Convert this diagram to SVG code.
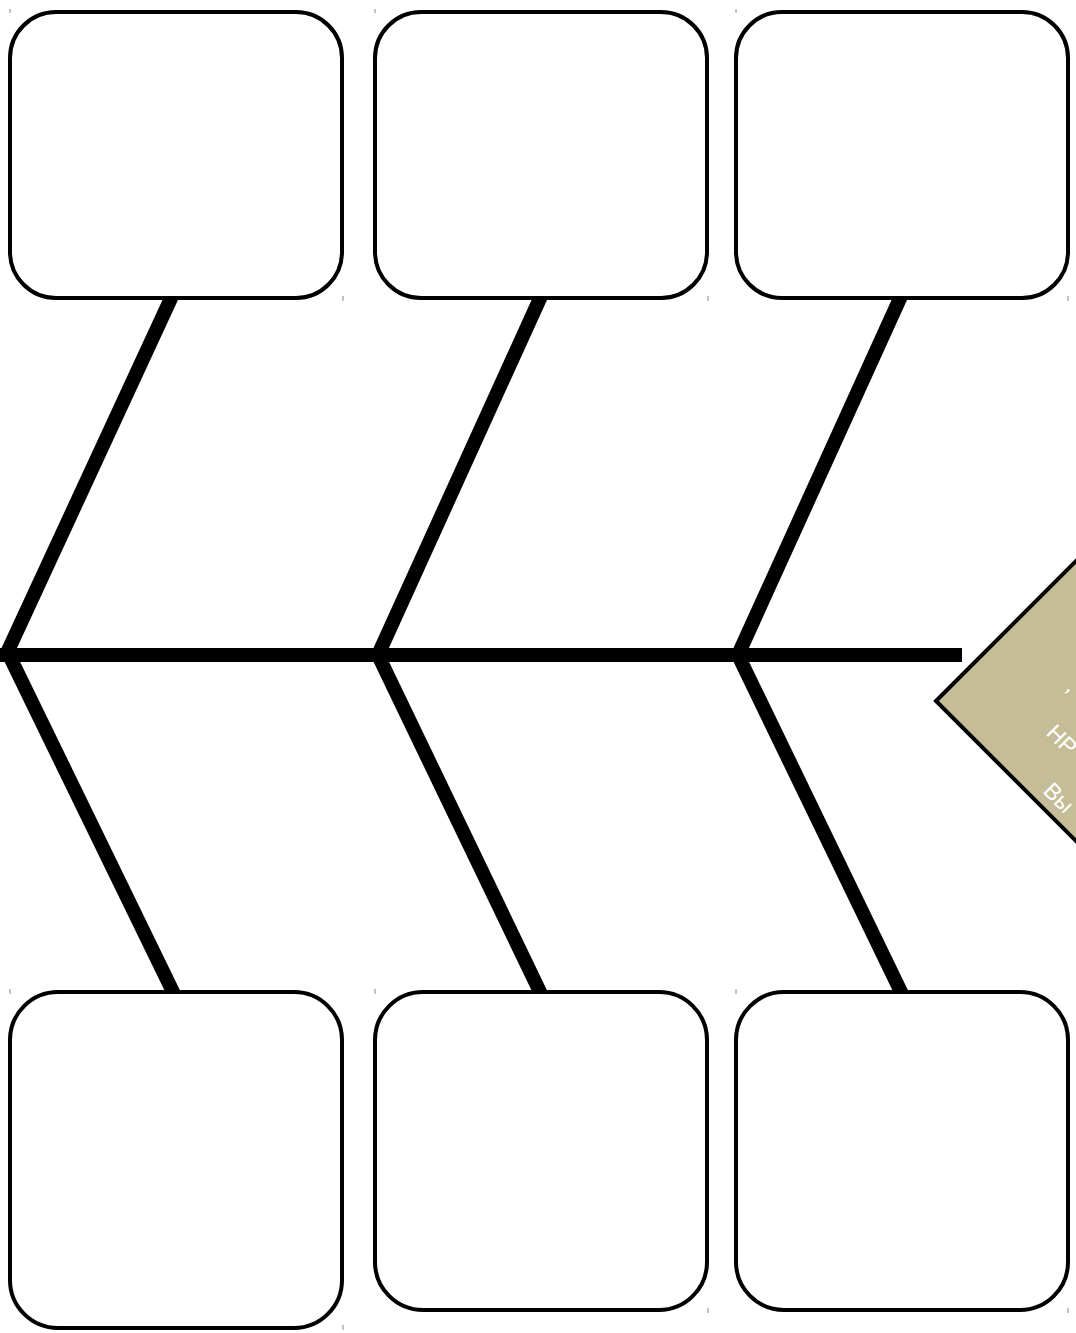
<svg xmlns="http://www.w3.org/2000/svg" width="1076" height="1333" viewBox="0 0 1076 1333">
<style>
.box{fill:#fff;stroke:#000;stroke-width:4}
.bone{stroke:#000;stroke-width:14;fill:none}
.spine{stroke:#000;stroke-width:14;fill:none}
.tick{stroke:#888;stroke-width:1}
.lbl{fill:#fff;font-family:"Liberation Sans",Arial,sans-serif;font-size:23px}
</style>
<rect width="1076" height="1333" fill="#fff"/>
<g id="connectors">
<line class="spine" x1="0" y1="655" x2="962" y2="655"/>
<line class="bone" x1="173" y1="294" x2="6" y2="655"/>
<line class="bone" x1="542" y1="294" x2="378" y2="655"/>
<line class="bone" x1="902" y1="294" x2="738" y2="655"/>
<line class="bone" x1="9" y1="655" x2="175" y2="996"/>
<line class="bone" x1="378" y1="655" x2="542" y2="996"/>
<line class="bone" x1="738" y1="655" x2="903" y2="996"/>
</g>
<g id="box-top-1"><rect class="box" x="10" y="12" width="332" height="286" rx="46"/><line class="tick" x1="10" y1="9" x2="10" y2="13"/><line class="tick" x1="343" y1="296" x2="343" y2="301"/></g>
<g id="box-top-2"><rect class="box" x="375" y="12" width="332" height="286" rx="46"/><line class="tick" x1="375" y1="9" x2="375" y2="13"/><line class="tick" x1="708" y1="296" x2="708" y2="301"/></g>
<g id="box-top-3"><rect class="box" x="736" y="12" width="332" height="286" rx="46"/><line class="tick" x1="736" y1="9" x2="736" y2="13"/><line class="tick" x1="1068" y1="296" x2="1068" y2="301"/></g>
<g id="box-bottom-1"><rect class="box" x="10" y="992" width="332" height="336" rx="48"/><line class="tick" x1="10" y1="989" x2="10" y2="994"/><line class="tick" x1="343" y1="1325" x2="343" y2="1330"/></g>
<g id="box-bottom-2"><rect class="box" x="375" y="992" width="332" height="318" rx="48"/><line class="tick" x1="375" y1="989" x2="375" y2="994"/><line class="tick" x1="708" y1="1308" x2="708" y2="1313"/></g>
<g id="box-bottom-3"><rect class="box" x="736" y="992" width="332" height="318" rx="48"/><line class="tick" x1="736" y1="989" x2="736" y2="994"/><line class="tick" x1="1068" y1="1308" x2="1068" y2="1313"/></g>
<g id="head">
<polygon points="936,701 1136,501 1336,701 1136,901" fill="#C4BD97" stroke="#000" stroke-width="4"/>
<text class="lbl" x="1065" y="689" transform="rotate(45 1065 689)">,</text>
<text class="lbl" x="1045" y="734" transform="rotate(45 1045 734)">НР</text>
<text class="lbl" x="1042" y="792" transform="rotate(45 1042 792)">Вы</text>
</g>
</svg>
